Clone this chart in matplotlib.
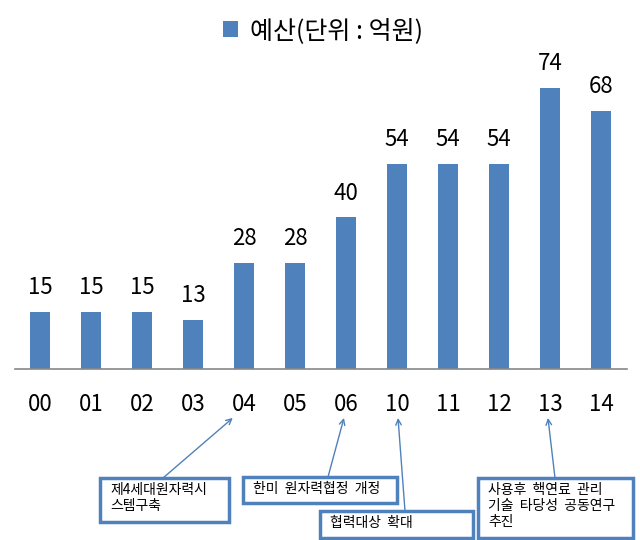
import matplotlib
matplotlib.use('Agg')
import matplotlib.pyplot as plt
from matplotlib.patches import Rectangle

plt.rcParams['font.family'] = ['Noto Sans CJK KR', 'DejaVu Sans']

years = ['00', '01', '02', '03', '04', '05', '06', '10', '11', '12', '13', '14']
budget = [15, 15, 15, 13, 28, 28, 40, 54, 54, 54, 74, 68]
legend_label = '예산(단위 : 억원)'

notes = ['제4세대원자력시\n스템구축', '한미  원자력협정  개정', '협력대상  확대',
         '사용후  핵연료  관리\n기술  타당성  공동연구\n추진']
note_target = [3.78, 5.96, 7.02, 9.96]   # where each arrow points on the year axis
# box (left, top, right, bottom) in pixels, and arrow start (x, y) in pixels
note_boxes = [(100, 478, 229, 522), (243, 477, 397, 503),
              (320, 511, 473, 538), (478, 478, 633, 538)]
note_start = [(163, 478), (328, 477), (405, 511), (555, 478)]

blue = '#4f81bd'
W, H = 640, 540

fig = plt.figure(figsize=(6.4, 5.4), dpi=100)
ax = fig.add_axes([14.5 / W, 1 - 369 / H, 612 / W, 304 / H])

x = range(len(years))
bars = ax.bar(x, budget, width=0.4, color=blue, label=legend_label)
for xi, v in zip(x, budget):
    ax.annotate(str(v), (xi, v), xytext=(0, 9), textcoords='offset points',
                ha='center', va='bottom', fontsize=16)

ax.set_xlim(-0.5, len(years) - 0.5)
ax.set_ylim(0, 80)
ax.set_xticks(list(x))
ax.set_xticklabels(years, fontsize=16)
ax.tick_params(axis='x', length=0, pad=17)
ax.set_yticks([])
for side in ['top', 'left', 'right']:
    ax.spines[side].set_visible(False)
ax.spines['bottom'].set_color('#888888')
ax.spines['bottom'].set_linewidth(1.2)

leg = fig.legend(loc='center', bbox_to_anchor=(323 / W, 1 - 31 / H), frameon=False,
                 fontsize=18, handlelength=0.6, handleheight=0.6, handletextpad=0.5)


def px(xp, yp):
    return xp / W, 1 - yp / H


for note, tx, box, start in zip(notes, note_target, note_boxes, note_start):
    l, t, r, b = box
    fig.patches.append(Rectangle(px(l, b), (r - l) / W, (b - t) / H, transform=fig.transFigure,
                                 facecolor='white', edgecolor=blue, linewidth=2.5, zorder=3))
    fig.text(*px(l + 10, t + 5), note, ha='left', va='top', fontsize=10,
             linespacing=1.2, zorder=4)
    ax.annotate('', xy=(tx, -0.161), xycoords=('data', 'axes fraction'),
                xytext=px(*start), textcoords='figure fraction',
                arrowprops=dict(arrowstyle='->', color=blue, lw=1, shrinkA=0, shrinkB=0),
                annotation_clip=False, zorder=2)

fig.savefig('out.png', dpi=100)
